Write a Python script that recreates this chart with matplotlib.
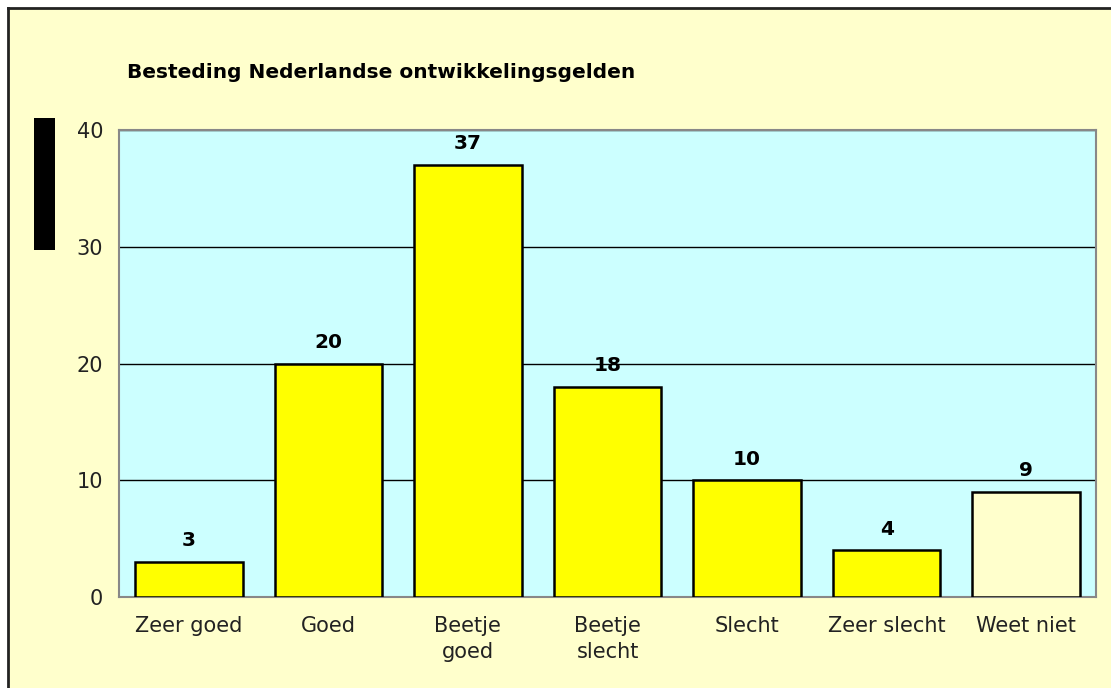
import matplotlib
matplotlib.use('Agg')
import matplotlib.pyplot as plt
from matplotlib.patches import Rectangle

categories = ['Zeer goed', 'Goed', 'Beetje\ngoed', 'Beetje\nslecht', 'Slecht', 'Zeer slecht', 'Weet niet']
values = [3, 20, 37, 18, 10, 4, 9]
colors = ['#FFFF00'] * 6 + ['#FFFFCC']

W, H = 1111, 688
fig = plt.figure(figsize=(W / 100, H / 100), dpi=100)
fig.patch.set_facecolor('white')

# pale yellow panel with a black edge on top and left
fig.patches.append(Rectangle((8 / W, 0), 1, 1 - 8 / H, transform=fig.transFigure,
                             facecolor='#FFFFCC', edgecolor='none', zorder=-10))
fig.lines.append(plt.Line2D([7.5 / W, 7.5 / W], [0, 1 - 7.5 / H], transform=fig.transFigure,
                            color='#222222', lw=2))
fig.lines.append(plt.Line2D([7.5 / W, 1], [1 - 7.5 / H, 1 - 7.5 / H], transform=fig.transFigure,
                            color='#222222', lw=2))
# black block left of the axis
fig.patches.append(Rectangle((34 / W, 1 - 250 / H), 21 / W, 132 / H, transform=fig.transFigure,
                             facecolor='black', edgecolor='none', zorder=1))

ax = fig.add_axes([119 / W, 1 - 597 / H, (1096 - 119) / W, (597 - 130) / H])
ax.set_facecolor('#CCFFFF')
x = range(len(categories))
bars = ax.bar(x, values, width=0.77, color=colors, edgecolor='black', linewidth=1.8, zorder=3)
for xi, v in zip(x, values):
    ax.text(xi, v + 1.0, str(v), ha='center', va='bottom', fontsize=14.5, fontweight='bold',
            color='black', zorder=4)

ax.set_xlim(-0.5, len(categories) - 0.5)
ax.set_ylim(0, 40)
ax.set_yticks([0, 10, 20, 30, 40])
ax.yaxis.grid(True, color='black', linewidth=1)
ax.set_axisbelow(True)
ax.set_xticks(list(x))
ax.set_xticklabels(categories, fontsize=15, color='#222222', linespacing=1.35)
ax.tick_params(axis='y', labelsize=15, labelcolor='#222222', length=0, pad=11.5)
ax.tick_params(axis='x', length=0, pad=14)
for s in ax.spines.values():
    s.set_color('#888888')
    s.set_linewidth(1.5)

fig.text(127 / W, 1 - 72 / H, 'Besteding Nederlandse ontwikkelingsgelden', fontsize=14.5,
         fontweight='bold', ha='left', va='center')

fig.savefig('out.png', dpi=100)
